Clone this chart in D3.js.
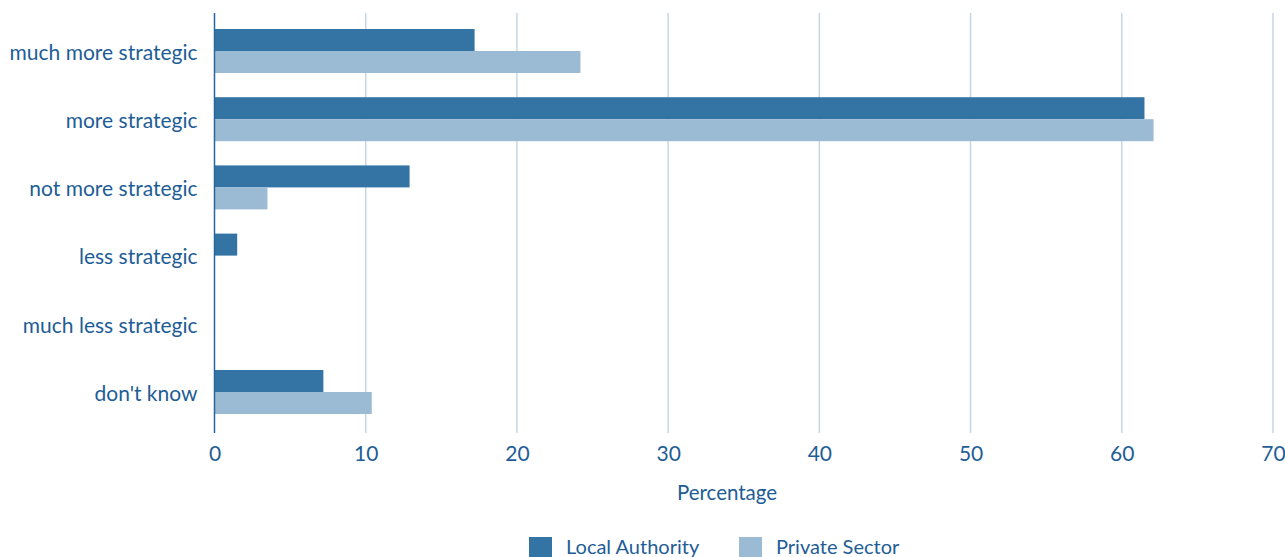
<!DOCTYPE html>
<html>
<head>
<meta charset="utf-8">
<script src="https://cdn.jsdelivr.net/npm/d3@7"></script>
<style>
  html, body { margin: 0; padding: 0; background: #fff; }
  svg { display: block; }
  text { font-family: Lato, "Noto Sans", sans-serif; fill: #1e5d96; }
</style>
</head>
<body>
<svg id="chart" width="1285" height="557"></svg>
<script>
// Survey responses (%)
const categories = ["much more strategic", "more strategic", "not more strategic", "less strategic", "much less strategic", "don't know"];
const localAuthority = [17.2, 61.5, 12.9, 1.5, 0, 7.2];
const privateSector = [24.2, 62.1, 3.5, 0, 0, 10.4];
const seriesNames = ["Local Authority", "Private Sector"];
const seriesColors = ["#3474a4", "#9bbad4"];
const xTicks = [0, 10, 20, 30, 40, 50, 60, 70];

const svg = d3.select("#chart");
const left = 214.5, right = 1273;
const plotTop = 13, plotBottom = 433;

const x = d3.scaleLinear().domain([0, 70]).range([left, right]);
const y = d3.scaleBand().domain(categories).range([16.9, 426.1]).paddingInner(0.355).paddingOuter(0.1775);
const ySub = d3.scaleBand().domain(seriesNames).range([0, y.bandwidth()]);

// vertical gridlines
svg.append("g").selectAll("line").data(xTicks.filter(d => d > 0)).join("line")
  .attr("x1", d => x(d)).attr("x2", d => x(d))
  .attr("y1", plotTop).attr("y2", plotBottom)
  .attr("stroke", "#c6d6e5").attr("stroke-width", 1.5);

// bars
const series = [localAuthority, privateSector];
const groups = svg.append("g").selectAll("g").data(categories).join("g")
  .attr("transform", d => `translate(0,${y(d)})`);
groups.selectAll("rect").data((c, i) => series.map((s, k) => ({ name: seriesNames[k], value: s[i], k })))
  .join("rect")
  .attr("x", x(0))
  .attr("y", d => ySub(d.name))
  .attr("width", d => x(d.value) - x(0))
  .attr("height", ySub.bandwidth())
  .attr("fill", d => seriesColors[d.k]);

// baseline
svg.append("line").attr("x1", x(0)).attr("x2", x(0)).attr("y1", plotTop).attr("y2", plotBottom)
  .attr("stroke", "#2a669c").attr("stroke-width", 1.5);

// category labels
const yAxis = d3.axisLeft(y).tickSize(0).tickPadding(17);
const ya = svg.append("g").attr("transform", `translate(${x(0)},2)`).call(yAxis);
ya.select(".domain").remove();
ya.selectAll("text").attr("font-size", 21).style("font-family", "Lato, 'Noto Sans', sans-serif").attr("fill", "#1e5d96");

// x tick labels
const xAxis = d3.axisBottom(x).tickValues(xTicks).tickSize(0).tickPadding(13);
const xa = svg.append("g").attr("transform", `translate(0,${plotBottom})`).call(xAxis);
xa.select(".domain").remove();
xa.selectAll("text").attr("font-size", 21).style("font-family", "Lato, 'Noto Sans', sans-serif").attr("fill", "#1e5d96");

// axis title
svg.append("text").attr("x", 727).attr("y", 500).attr("text-anchor", "middle")
  .attr("font-size", 20.5).text("Percentage");

// legend
const legendItems = [{ x: 529 }, { x: 739 }];
const lg = svg.append("g").selectAll("g").data(seriesNames).join("g")
  .attr("transform", (d, i) => `translate(${legendItems[i].x},537)`);
lg.append("rect").attr("width", 23).attr("height", 22).attr("fill", (d, i) => seriesColors[i]);
lg.append("text").attr("x", 37).attr("y", 17).attr("font-size", 20).text(d => d);
</script>
</body>
</html>
